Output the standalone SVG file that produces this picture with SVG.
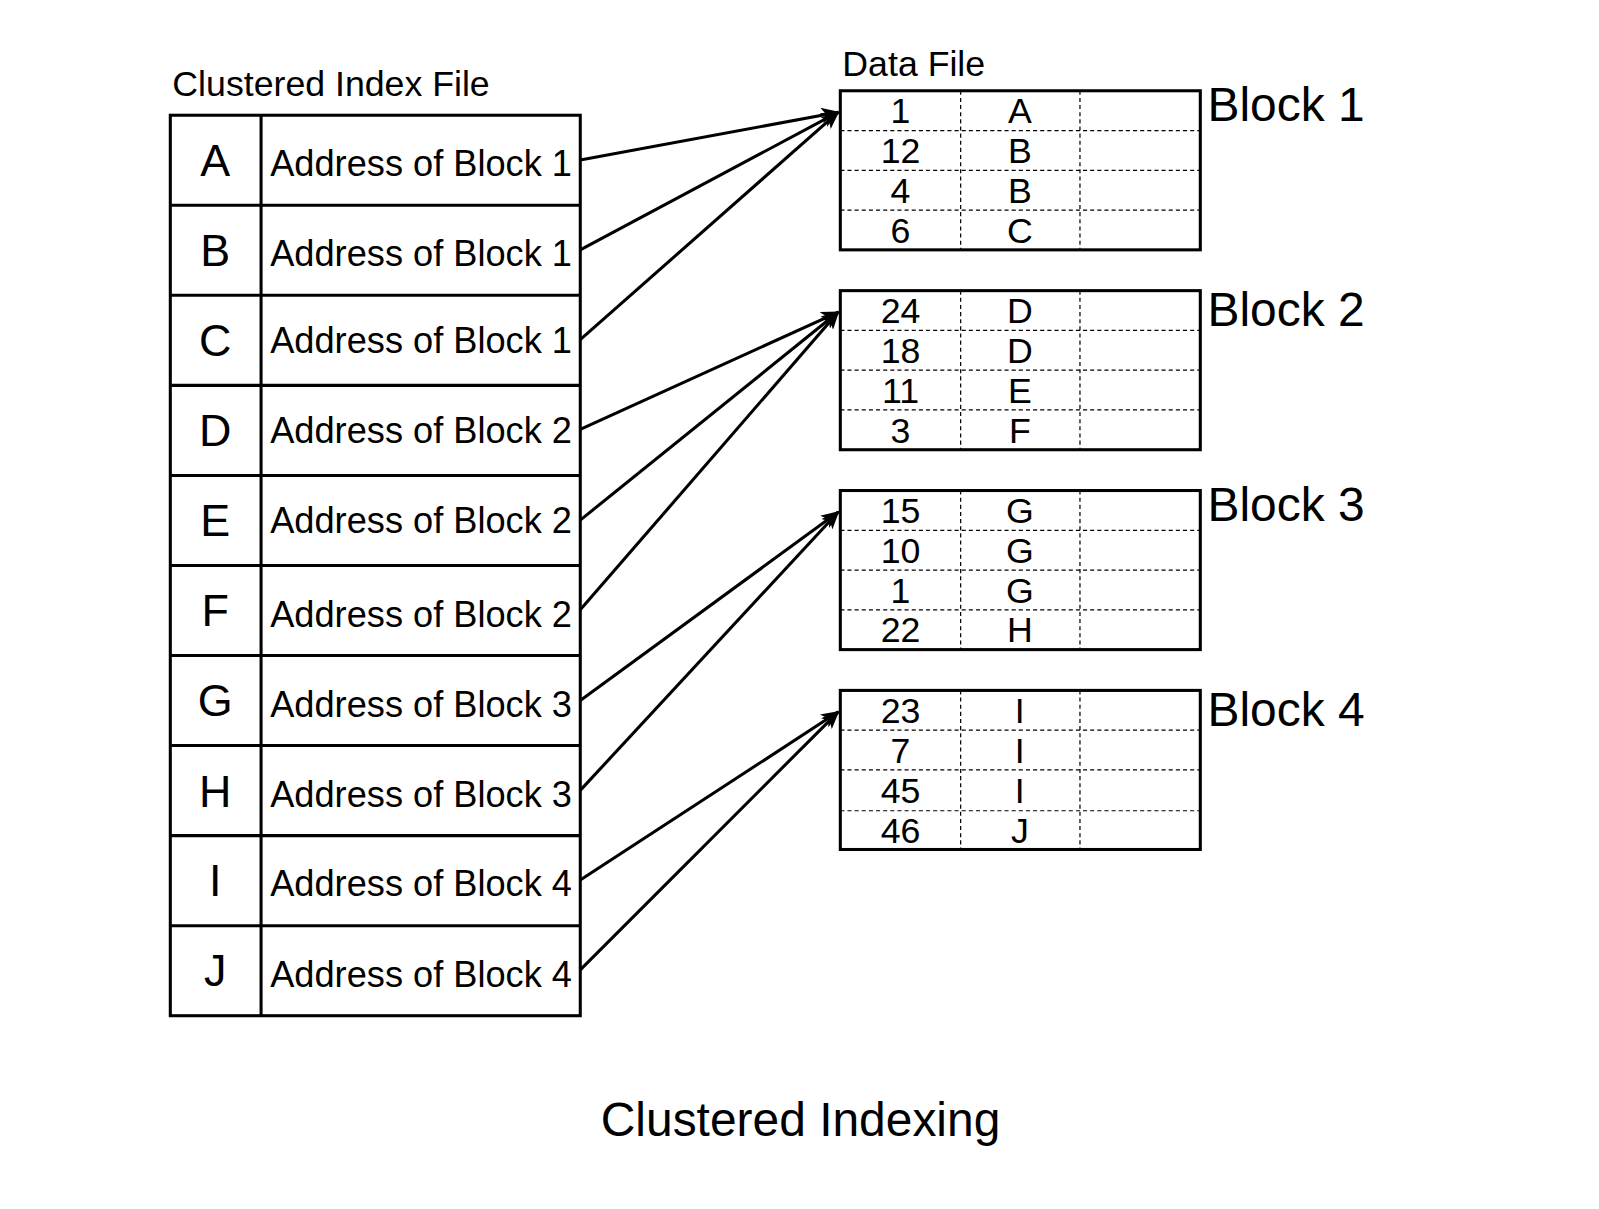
<svg xmlns="http://www.w3.org/2000/svg" width="1599" height="1209" viewBox="0 0 1599 1209">
<style>
text{font-family:"Liberation Sans",Arial,sans-serif;fill:#000}
.cell{fill:#fff;stroke:#000;stroke-width:3}
.div{stroke:#000;stroke-width:3}
.dash{stroke:#000;stroke-width:1.2;stroke-dasharray:4 3}
.addr{font-size:35.5px}
.key{font-size:44px;text-anchor:middle}
.val{font-size:35px;text-anchor:middle}
.blk{font-size:47px}
.conn{stroke:#000;stroke-width:3;fill:none;marker-end:url(#ah)}
</style>
<defs>
<marker id="ah" viewBox="0 0 12 10" refX="11" refY="5" markerWidth="6" markerHeight="5" orient="auto" markerUnits="strokeWidth">
<path d="M0,0 L12,5 L0,10 L3,5 z" fill="#000"/>
</marker>
</defs>
<rect width="1599" height="1209" fill="#fff"/>
<g transform="scale(1.0198)">
<text x="169" y="94" style="font-size:35px">Clustered Index File</text>
<text x="826" y="75" style="font-size:35px">Data File</text>
<text x="785" y="1114" style="font-size:47px;text-anchor:middle">Clustered Indexing</text>
<g id="index">
<rect class="cell" x="167" y="113" width="402" height="883"/>
<line class="div" x1="256" y1="113" x2="256" y2="996"/>
<line class="div" x1="167" y1="201.3" x2="569" y2="201.3"/>
<line class="div" x1="167" y1="289.6" x2="569" y2="289.6"/>
<line class="div" x1="167" y1="377.9" x2="569" y2="377.9"/>
<line class="div" x1="167" y1="466.2" x2="569" y2="466.2"/>
<line class="div" x1="167" y1="554.5" x2="569" y2="554.5"/>
<line class="div" x1="167" y1="642.8" x2="569" y2="642.8"/>
<line class="div" x1="167" y1="731.1" x2="569" y2="731.1"/>
<line class="div" x1="167" y1="819.4" x2="569" y2="819.4"/>
<line class="div" x1="167" y1="907.7" x2="569" y2="907.7"/>
</g>
<g id="row-A"><text class="key" x="211" y="173">A</text><text class="addr" x="265" y="173">Address of Block 1</text></g>
<g id="row-B"><text class="key" x="211" y="261">B</text><text class="addr" x="265" y="261">Address of Block 1</text></g>
<g id="row-C"><text class="key" x="211" y="349">C</text><text class="addr" x="265" y="346">Address of Block 1</text></g>
<g id="row-D"><text class="key" x="211" y="437">D</text><text class="addr" x="265" y="434">Address of Block 2</text></g>
<g id="row-E"><text class="key" x="211" y="526">E</text><text class="addr" x="265" y="523">Address of Block 2</text></g>
<g id="row-F"><text class="key" x="211" y="614">F</text><text class="addr" x="265" y="615">Address of Block 2</text></g>
<g id="row-G"><text class="key" x="211" y="702">G</text><text class="addr" x="265" y="703">Address of Block 3</text></g>
<g id="row-H"><text class="key" x="211" y="791">H</text><text class="addr" x="265" y="791">Address of Block 3</text></g>
<g id="row-I"><text class="key" x="211" y="879">I</text><text class="addr" x="265" y="879">Address of Block 4</text></g>
<g id="row-J"><text class="key" x="211" y="967">J</text><text class="addr" x="265" y="968">Address of Block 4</text></g>

<g id="block1">
<rect class="cell" x="824" y="89" width="353" height="156"/>
<line class="dash" x1="824" y1="128" x2="1177" y2="128"/>
<line class="dash" x1="824" y1="167" x2="1177" y2="167"/>
<line class="dash" x1="824" y1="206" x2="1177" y2="206"/>
<line class="dash" x1="942" y1="89" x2="942" y2="245"/>
<line class="dash" x1="1059" y1="89" x2="1059" y2="245"/>
<text class="val" x="883" y="121">1</text><text class="val" x="1000" y="121">A</text>
<text class="val" x="883" y="160">12</text><text class="val" x="1000" y="160">B</text>
<text class="val" x="883" y="199">4</text><text class="val" x="1000" y="199">B</text>
<text class="val" x="883" y="238">6</text><text class="val" x="1000" y="238">C</text>
<text class="blk" x="1184" y="119">Block 1</text>
</g>
<g id="block2">
<rect class="cell" x="824" y="285" width="353" height="156"/>
<line class="dash" x1="824" y1="324" x2="1177" y2="324"/>
<line class="dash" x1="824" y1="363" x2="1177" y2="363"/>
<line class="dash" x1="824" y1="402" x2="1177" y2="402"/>
<line class="dash" x1="942" y1="285" x2="942" y2="441"/>
<line class="dash" x1="1059" y1="285" x2="1059" y2="441"/>
<text class="val" x="883" y="317">24</text><text class="val" x="1000" y="317">D</text>
<text class="val" x="883" y="356">18</text><text class="val" x="1000" y="356">D</text>
<text class="val" x="883" y="395">11</text><text class="val" x="1000" y="395">E</text>
<text class="val" x="883" y="434">3</text><text class="val" x="1000" y="434">F</text>
<text class="blk" x="1184" y="320">Block 2</text>
</g>
<g id="block3">
<rect class="cell" x="824" y="481" width="353" height="156"/>
<line class="dash" x1="824" y1="520" x2="1177" y2="520"/>
<line class="dash" x1="824" y1="559" x2="1177" y2="559"/>
<line class="dash" x1="824" y1="598" x2="1177" y2="598"/>
<line class="dash" x1="942" y1="481" x2="942" y2="637"/>
<line class="dash" x1="1059" y1="481" x2="1059" y2="637"/>
<text class="val" x="883" y="513">15</text><text class="val" x="1000" y="513">G</text>
<text class="val" x="883" y="552">10</text><text class="val" x="1000" y="552">G</text>
<text class="val" x="883" y="591">1</text><text class="val" x="1000" y="591">G</text>
<text class="val" x="883" y="630">22</text><text class="val" x="1000" y="630">H</text>
<text class="blk" x="1184" y="511">Block 3</text>
</g>
<g id="block4">
<rect class="cell" x="824" y="677" width="353" height="156"/>
<line class="dash" x1="824" y1="716" x2="1177" y2="716"/>
<line class="dash" x1="824" y1="755" x2="1177" y2="755"/>
<line class="dash" x1="824" y1="795" x2="1177" y2="795"/>
<line class="dash" x1="942" y1="677" x2="942" y2="833"/>
<line class="dash" x1="1059" y1="677" x2="1059" y2="833"/>
<text class="val" x="883" y="709">23</text><text class="val" x="1000" y="709">I</text>
<text class="val" x="883" y="748">7</text><text class="val" x="1000" y="748">I</text>
<text class="val" x="883" y="787">45</text><text class="val" x="1000" y="787">I</text>
<text class="val" x="883" y="827">46</text><text class="val" x="1000" y="827">J</text>
<text class="blk" x="1184" y="712">Block 4</text>
</g>

<g id="connectors">
<line class="conn" x1="569" y1="157" x2="822" y2="110"/>
<line class="conn" x1="569" y1="245" x2="822" y2="110"/>
<line class="conn" x1="569" y1="333" x2="822" y2="110"/>
<line class="conn" x1="569" y1="421" x2="822" y2="306"/>
<line class="conn" x1="569" y1="510" x2="822" y2="306"/>
<line class="conn" x1="569" y1="598" x2="822" y2="306"/>
<line class="conn" x1="569" y1="687" x2="822" y2="502"/>
<line class="conn" x1="569" y1="775" x2="822" y2="502"/>
<line class="conn" x1="569" y1="863" x2="822" y2="698"/>
<line class="conn" x1="569" y1="951" x2="822" y2="698"/>
</g>
</g>
</svg>
